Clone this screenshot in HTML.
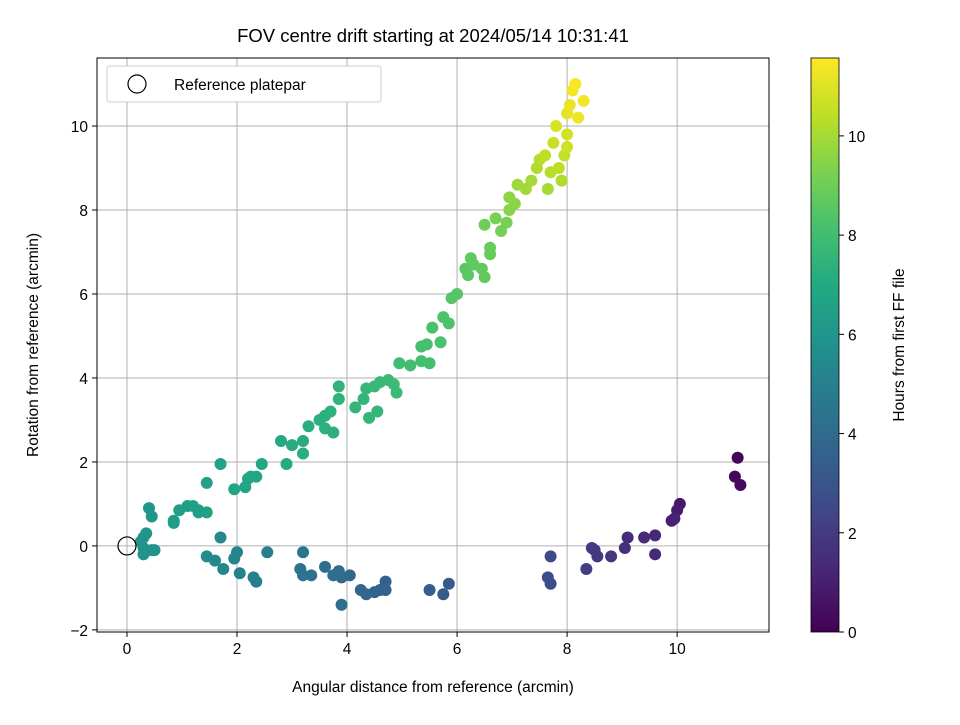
<!DOCTYPE html>
<html><head><meta charset="utf-8"><style>
body{margin:0;background:#fff;font-family:"Liberation Sans",sans-serif}
svg text{font-family:"Liberation Sans","DejaVu Sans",sans-serif;fill:#000}
</style></head><body>
<svg id="c" width="960" height="720" xmlns="http://www.w3.org/2000/svg">
<defs><linearGradient id="vir" x1="0" y1="1" x2="0" y2="0">
<stop offset="0" stop-color="#440154"/><stop offset="0.1" stop-color="#482475"/><stop offset="0.2" stop-color="#414487"/><stop offset="0.3" stop-color="#355f8d"/><stop offset="0.4" stop-color="#2a788e"/><stop offset="0.5" stop-color="#21918c"/><stop offset="0.6" stop-color="#22a884"/><stop offset="0.7" stop-color="#44bf70"/><stop offset="0.8" stop-color="#7ad151"/><stop offset="0.9" stop-color="#bddf26"/><stop offset="1" stop-color="#fde725"/></linearGradient></defs>
<text x="433" y="42" font-size="18.5" text-anchor="middle">FOV centre drift starting at 2024/05/14 10:31:41</text>
<g id="grid"></g><g id="pts"></g><g id="axes"></g>
<rect x="811" y="58" width="28" height="574" fill="url(#vir)" stroke="#000" stroke-width="0.8"/>
<text transform="translate(904,345) rotate(-90)" font-size="15.5" text-anchor="middle">Hours from first FF file</text>
<text x="433" y="692" font-size="15.5" text-anchor="middle">Angular distance from reference (arcmin)</text>
<text transform="translate(38,345) rotate(-90)" font-size="15.5" text-anchor="middle">Rotation from reference (arcmin)</text>
<g>
<rect x="107" y="66" width="274" height="36" rx="3" fill="#fff" stroke="#ccc"/>
<circle cx="137" cy="84" r="9" fill="none" stroke="#000" stroke-width="1.2"/>
<text x="174" y="90" font-size="15.5">Reference platepar</text></g>
</svg>
<script>
const xs=[11.1,11.05,11.15,10.05,10.0,9.9,9.95,9.6,9.6,9.4,9.1,9.05,8.8,8.55,8.5,8.45,8.35,7.7,7.65,7.7,
5.85,5.75,5.5,4.7,4.7,4.6,4.5,4.35,4.25,4.05,3.9,3.85,3.9,3.6,3.75,3.35,3.2,3.15,3.2,2.55,2.35,2.3,2.05,2.0,1.95,1.75,1.7,1.6,1.45,
0.45,0.3,0.3,0.35,0.3,0.25,0.4,0.45,0.5,
0.85,0.85,0.95,1.1,1.2,1.3,1.3,1.45,1.45,1.7,1.95,2.15,2.2,2.25,2.35,2.45,2.8,2.9,3.0,3.2,3.2,3.3,3.5,3.6,3.6,3.7,3.75,3.85,3.85,4.15,4.3,4.35,4.4,4.5,4.55,4.6,4.75,4.85,4.9,4.95,5.15,5.35,5.35,5.45,5.5,5.55,5.7,5.75,5.85,5.9,6.0,6.15,6.2,6.25,6.3,6.45,6.5,6.5,6.6,6.6,6.7,6.8,6.9,6.95,6.95,7.05,7.1,7.25,7.35,7.45,7.5,7.6,7.65,7.7,7.75,7.8,7.9,7.95,8.0,8.0,8.05,8.1,8.15,8.2,8.3,8.0,7.85];
const ys=[2.1,1.65,1.45,1.0,0.85,0.6,0.65,0.25,-0.2,0.2,0.2,-0.05,-0.25,-0.25,-0.1,-0.05,-0.55,-0.25,-0.75,-0.9,
-0.9,-1.15,-1.05,-0.85,-1.05,-1.05,-1.1,-1.15,-1.05,-0.7,-0.75,-0.6,-1.4,-0.5,-0.7,-0.7,-0.7,-0.55,-0.15,-0.15,-0.85,-0.75,-0.65,-0.15,-0.3,-0.55,0.2,-0.35,-0.25,
-0.1,-0.05,-0.2,0.3,0.2,0.1,0.9,0.7,-0.1,
0.55,0.6,0.85,0.95,0.95,0.85,0.8,0.8,1.5,1.95,1.35,1.4,1.6,1.65,1.65,1.95,2.5,1.95,2.4,2.2,2.5,2.85,3.0,3.1,2.8,3.2,2.7,3.5,3.8,3.3,3.5,3.75,3.05,3.8,3.2,3.9,3.95,3.85,3.65,4.35,4.3,4.4,4.75,4.8,4.35,5.2,4.85,5.45,5.3,5.9,6.0,6.6,6.45,6.85,6.7,6.6,6.4,7.65,6.95,7.1,7.8,7.5,7.7,8.0,8.3,8.15,8.6,8.5,8.7,9.0,9.2,9.3,8.5,8.9,9.6,10.0,8.7,9.3,9.8,10.3,10.5,10.85,11.0,10.2,10.6,9.5,9.0];
const ts=[0.1,0.2,0.3,0.8,0.9,1.0,1.1,1.3,1.35,1.4,1.5,1.6,1.8,1.9,1.95,2.0,2.1,2.6,2.7,2.75,
3.3,3.35,3.4,3.6,3.65,3.7,3.75,3.8,3.85,3.95,4.0,4.05,4.1,4.2,4.15,4.3,4.35,4.4,4.5,4.9,4.95,5.0,5.1,5.15,5.2,5.3,5.35,5.4,5.5,
5.8,5.85,5.9,5.95,6.0,6.0,6.1,6.1,5.85,
6.3,6.35,6.4,6.45,6.5,6.5,6.55,6.6,6.6,6.7,6.75,6.8,6.8,6.85,6.85,6.9,7.0,7.05,7.1,7.15,7.15,7.2,7.3,7.35,7.3,7.4,7.35,7.45,7.5,7.55,7.6,7.65,7.6,7.7,7.65,7.75,7.8,7.85,7.8,7.95,8.0,8.1,8.15,8.15,8.1,8.25,8.2,8.35,8.3,8.45,8.5,8.6,8.6,8.7,8.7,8.75,8.75,9.0,8.85,8.9,9.2,9.1,9.2,9.5,9.6,9.55,9.9,9.95,10.0,10.2,10.3,10.4,10.0,10.3,10.6,10.9,10.2,10.5,10.8,11.1,11.2,11.4,11.5,11.3,11.4,10.7,10.4];
const xTicks=[0,2,4,6,8,10], yTicks=[-2,0,2,4,6,8,10], cTicks=[0,2,4,6,8,10];
const X0=97,X1=769,Y0=58,Y1=632, xmin=-0.545,xmax=11.67,ymin=-2.05,ymax=11.62,cmax=11.57;
const sx=v=>X0+(v-xmin)/(xmax-xmin)*(X1-X0);
const sy=v=>Y1-(v-ymin)/(ymax-ymin)*(Y1-Y0);
const sc=v=>632-v/cmax*574;
const stops=[[68,1,84],[72,36,117],[65,68,135],[53,95,141],[42,120,142],[33,145,140],[34,168,132],[68,191,112],[122,209,81],[189,223,38],[253,231,37]];
function vir(t){t=Math.max(0,Math.min(1,t))*10;const i=Math.min(9,Math.floor(t)),f=t-i,a=stops[i],b=stops[i+1];
return 'rgb('+a.map((v,k)=>Math.round(v+(b[k]-v)*f)).join(',')+')';}
const NS='http://www.w3.org/2000/svg';
function mk(tag,at,parent){const e=document.createElementNS(NS,tag);for(const k in at)e.setAttribute(k,at[k]);parent.appendChild(e);return e;}
const G=document.getElementById('grid'),P=document.getElementById('pts'),A=document.getElementById('axes');
xTicks.forEach(v=>{const x=sx(v);
const l=mk('line',{x1:x,x2:x,y1:Y0,y2:Y1,stroke:'#b0b0b0','stroke-width':1},G);


mk('line',{x1:x,x2:x,y1:Y1,y2:Y1+5,stroke:'#000'},A);
const t=mk('text',{x:x,y:Y1+22,'font-size':15.5,'text-anchor':'middle'},A);t.textContent=v;

});
yTicks.forEach(v=>{const y=sy(v);
const l=mk('line',{x1:X0,x2:X1,y1:y,y2:y,stroke:'#b0b0b0','stroke-width':1},G);


mk('line',{x1:X0-5,x2:X0,y1:y,y2:y,stroke:'#000'},A);
const t=mk('text',{x:X0-9,y:y+6,'font-size':15.5,'text-anchor':'end'},A);t.textContent=v<0?'\u2212'+(-v):v;

});
cTicks.forEach(v=>{const y=sc(v);
mk('line',{x1:839,x2:844,y1:y,y2:y,stroke:'#000'},A);
const t=mk('text',{x:848,y:y+6,'font-size':15.5},A);t.textContent=v;

});
const fr=mk('rect',{x:X0,y:Y0,width:X1-X0,height:Y1-Y0,fill:'none',stroke:'#000','stroke-width':1},A);


xs.forEach((x,i)=>{const c=mk('circle',{cx:sx(x),cy:sy(ys[i]),r:6,fill:vir(ts[i]/cmax)},P);

});
const ref=mk('circle',{cx:sx(0),cy:sy(0),r:9,fill:'none',stroke:'#000','stroke-width':1.2},P);


</script>
</body></html>
